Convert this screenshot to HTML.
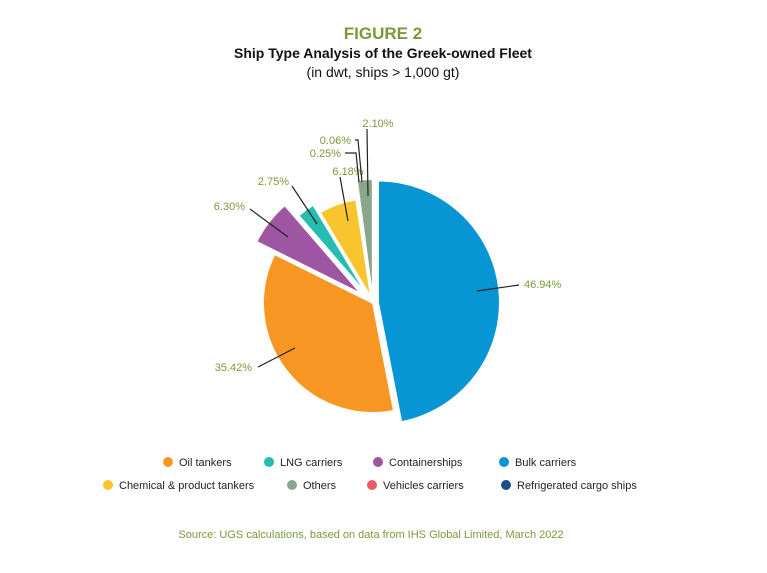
<!DOCTYPE html>
<html><head><meta charset="utf-8"><style>
body{margin:0;background:#fff;font-family:"Liberation Sans",sans-serif}
svg{display:block}
</style></head><body>
<svg width="767" height="573" viewBox="0 0 767 573">
<text x="383" y="39" text-anchor="middle" font-size="17" font-weight="bold" fill="#7a9a3a">FIGURE 2</text>
<text x="383" y="58" text-anchor="middle" font-size="14" font-weight="bold" fill="#111">Ship Type Analysis of the Greek-owned Fleet</text>
<text x="383" y="77" text-anchor="middle" font-size="14" fill="#111">(in dwt, ships &gt; 1,000 gt)</text>
<g id="slices"></g>
<g id="labels"></g>
<g id="legend"></g>
<text x="371" y="538" text-anchor="middle" font-size="11" fill="#7a9a3a">Source: UGS calculations, based on data from IHS Global Limited, March 2022</text>
</svg>
<script>
const categories=["Bulk carriers","Oil tankers","Containerships","LNG carriers","Chemical & product tankers","Vehicles carriers","Refrigerated cargo ships","Others"];
const values=[46.94,35.42,6.30,2.75,6.18,0.25,0.06,2.10];
const valueLabels=["46.94%","35.42%","6.30%","2.75%","6.18%","0.25%","0.06%","2.10%"];
const colors=["#0795d3","#f79622","#9e55a2","#27bcb0","#f9c52f","#ec5a68","#1d4e89","#8aa68c"];
const radii=[122,110,118,106,100,120,120,122];
const explode=[5,0,14,9,5,2,2,2];
const legendOrder=[1,3,2,0,4,7,5,6];
const NS="http://www.w3.org/2000/svg";
const cx=373,cy=303;
const total=values.reduce((a,b)=>a+b,0);
function ang(v){return v/total*2*Math.PI;}
function pt(x,y,r,a){return [x+r*Math.sin(a),y-r*Math.cos(a)];}
const sg=document.getElementById('slices');
let cum=0;
const mids=[];
values.forEach((v,i)=>{
  const a0=ang(cum),a1=ang(cum+v);cum+=v;
  const am=(a0+a1)/2;mids.push(am);
  const ox=cx+explode[i]*Math.sin(am),oy=cy-explode[i]*Math.cos(am);
  const p0=pt(ox,oy,radii[i],a0),p1=pt(ox,oy,radii[i],a1);
  const p=document.createElementNS(NS,'path');
  p.setAttribute('d',`M${ox},${oy}L${p0[0]},${p0[1]}A${radii[i]},${radii[i]} 0 ${a1-a0>Math.PI?1:0} 1 ${p1[0]},${p1[1]}Z`);
  p.setAttribute('fill',colors[i]);p.setAttribute('stroke','#fff');p.setAttribute('stroke-width','2');
  
  
  sg.appendChild(p);
});
// label leader geometry (layout)
const lab=[
 {line:"M477,291L519,285",x:524,y:288,anchor:"start"},
 {line:"M295,348L258,367",x:252,y:371,anchor:"end"},
 {line:"M288,237L250,209",x:245,y:210,anchor:"end"},
 {line:"M317,224L292,186",x:289,y:185,anchor:"end"},
 {line:"M348,221L340,177",x:348,y:175,anchor:"middle"},
 {line:"M345,153L356,153L359,182",x:341,y:157,anchor:"end"},
 {line:"M355,140L358,140L362,182",x:351,y:144,anchor:"end"},
 {line:"M367,129L368,196",x:378,y:127,anchor:"middle"}
];
const lg=document.getElementById('labels');
lab.forEach((l,i)=>{
  const pl=document.createElementNS(NS,'path');
  pl.setAttribute('d',l.line);pl.setAttribute('stroke','#222');pl.setAttribute('fill','none');pl.setAttribute('stroke-width','1.2');
  
  
  lg.appendChild(pl);
  const t=document.createElementNS(NS,'text');
  t.setAttribute('x',l.x);t.setAttribute('y',l.y);t.setAttribute('text-anchor',l.anchor);
  t.setAttribute('font-size','11');t.setAttribute('fill','#7a9a3a');
  t.textContent=valueLabels[i];
  
  
  lg.appendChild(t);
});
const leg=document.getElementById('legend');
const lx=[[168,269,378,504],[108,292,372,506]],ly=[462,485];
legendOrder.forEach((ci,k)=>{
  const row=k<4?0:1,col=k%4;
  const g=document.createElementNS(NS,'g');
  
  
  const c=document.createElementNS(NS,'circle');
  c.setAttribute('cx',lx[row][col]);c.setAttribute('cy',ly[row]);c.setAttribute('r','5');c.setAttribute('fill',colors[ci]);
  g.appendChild(c);
  const t=document.createElementNS(NS,'text');
  t.setAttribute('x',lx[row][col]+11);t.setAttribute('y',ly[row]+4);t.setAttribute('font-size','11');t.setAttribute('fill','#222');
  t.textContent=categories[ci];
  g.appendChild(t);
  leg.appendChild(g);
});
</script>
</body></html>
